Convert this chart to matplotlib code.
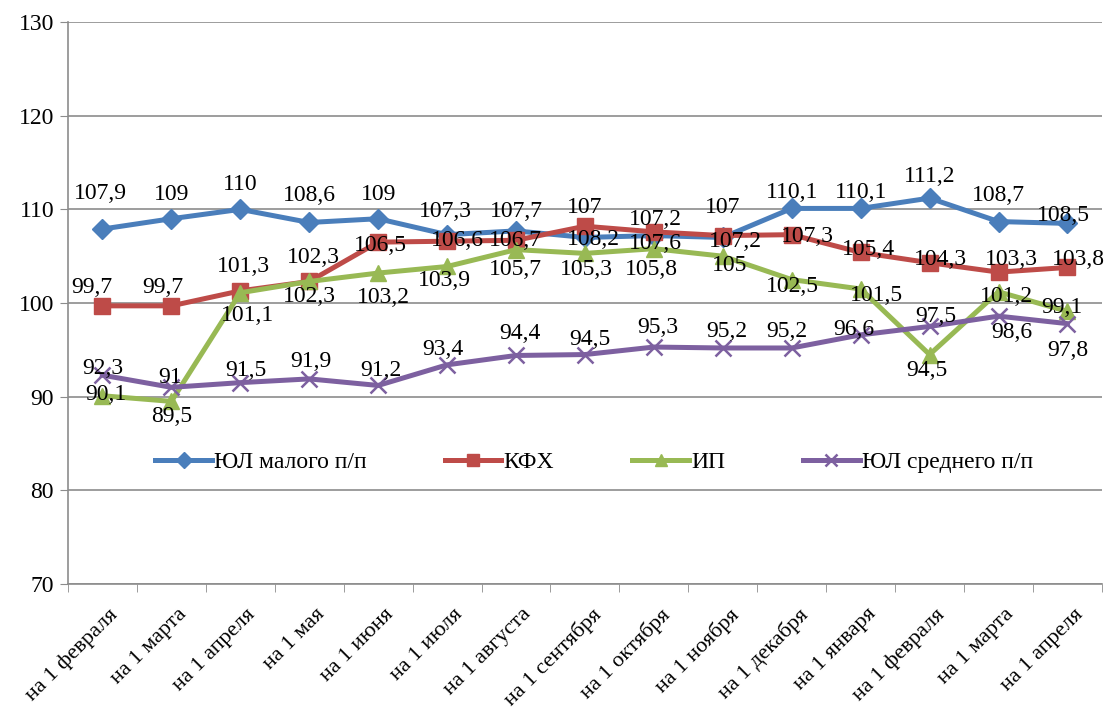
import matplotlib
matplotlib.use("Agg")
import matplotlib.pyplot as plt
from matplotlib.transforms import ScaledTranslation

plt.rcParams['font.family'] = 'serif'
plt.rcParams['font.serif'] = ['Liberation Serif', 'DejaVu Serif']

months = ["на 1 февраля", "на 1 марта", "на 1 апреля", "на 1 мая", "на 1 июня",
          "на 1 июля", "на 1 августа", "на 1 сентября", "на 1 октября",
          "на 1 ноября", "на 1 декабря", "на 1 января", "на 1 февраля",
          "на 1 марта", "на 1 апреля"]

yul_small = [107.9, 109, 110, 108.6, 109, 107.3, 107.7, 107, 107.2, 107,
             110.1, 110.1, 111.2, 108.7, 108.5]
kfh = [99.7, 99.7, 101.3, 102.3, 106.5, 106.6, 106.7, 108.2, 107.6, 107.2,
       107.3, 105.4, 104.3, 103.3, 103.8]
ip = [90.1, 89.5, 101.1, 102.3, 103.2, 103.9, 105.7, 105.3, 105.8, 105,
      102.5, 101.5, 94.5, 101.2, 99.1]
yul_mid = [92.3, 91, 91.5, 91.9, 91.2, 93.4, 94.4, 94.5, 95.3, 95.2,
           95.2, 96.6, 97.5, 98.6, 97.8]

# label offsets in pixels (dx, dy), dy up
off_small = [(-2, 36), (0, 24), (0, 25), (0, 27), (0, 24), (-2, 23), (0, 19), (0, 30),
             (2, 16), (0, 30), (0, 16), (0, 16), (0, 22), (0, 26), (-4, 8)]
off_kfh = [(-11, 18), (-9, 18), (3, 24), (4, 24), (2, -3), (10, 1), (-1, 0), (8, -13),
           (2, -12), (13, -6), (16, -2), (8, 3), (11, 3), (13, 13), (11, 8)]
off_ip = [(3, 1), (0, -15), (7, -23), (0, -15), (5, -24), (-3, -14), (-1, -20), (1, -16),
          (-2, -21), (7, -9), (1, -7), (16, -7), (-3, -16), (8, -5), (-6, 4)]
off_mid = [(0, 7), (-1, 10), (6, 12), (2, 17), (3, 15), (-4, 15), (4, 22), (5, 15),
           (4, 20), (4, 16), (-5, 16), (-7, 5), (6, 10), (13, -16), (0, -27)]

series = [
    ("ЮЛ малого п/п", yul_small, "#4A7EBB", "D", 10, off_small),
    ("КФХ", kfh, "#BE4B48", "s", 11, off_kfh),
    ("ИП", ip, "#98B954", "^", 11, off_ip),
    ("ЮЛ среднего п/п", yul_mid, "#7D60A0", "x", 11, off_mid),
]

fig = plt.figure(figsize=(11.07, 7.11), dpi=100)
ax = fig.add_axes([0.0614, 0.1786, 0.934, 0.7904])

x = list(range(len(months)))
fs = 17

for name, vals, color, mk, ms, offs in series:
    ax.plot(x, vals, color=color, lw=3.6, marker=mk, markersize=ms,
            markeredgecolor=color, markeredgewidth=1.8 if mk == "x" else 1,
            label=name, zorder=3)
    for xi, v, (dx, dy) in zip(x, vals, offs):
        ax.annotate(f"{v:g}".replace('.', ','), (xi, v), xytext=(dx, dy),
                    textcoords='offset pixels', ha='center', va='center',
                    fontsize=fs, zorder=4)

ax.set_xlim(-0.5, len(months) - 0.5)
ax.set_ylim(70, 130)
ax.set_yticks(range(70, 131, 10))
ax.yaxis.grid(True, color='#8c8c8c', lw=1.2)
ax.set_axisbelow(True)

ax.set_xticks(x)
ax.set_xticklabels(months, rotation=45, ha='right', va='top', rotation_mode='anchor',
                   fontsize=16)
ax.tick_params(axis='x', length=0, pad=15)
shift = ScaledTranslation(6 / 100, 0, fig.dpi_scale_trans)
for lbl in ax.get_xticklabels():
    lbl.set_transform(lbl.get_transform() + shift)
ax.set_xticks([i - 0.5 for i in range(len(months) + 1)], minor=True)
ax.tick_params(axis='x', which='minor', length=6, color='#8c8c8c')
ax.tick_params(axis='y', labelsize=fs, length=6, color='#8c8c8c', pad=4)

for s in ['top', 'right']:
    ax.spines[s].set_visible(False)
ax.spines['left'].set_color('#8c8c8c')
ax.spines['bottom'].set_color('#8c8c8c')
ax.spines['left'].set_linewidth(1.2)
ax.spines['bottom'].set_linewidth(1.2)

ax.legend(loc='center', bbox_to_anchor=(0.509, 0.217), ncol=4, frameon=False,
          fontsize=fs, handlelength=2.4, columnspacing=3.3, handletextpad=0.1,
          markerscale=0.8)

fig.savefig("out.png", dpi=100)
